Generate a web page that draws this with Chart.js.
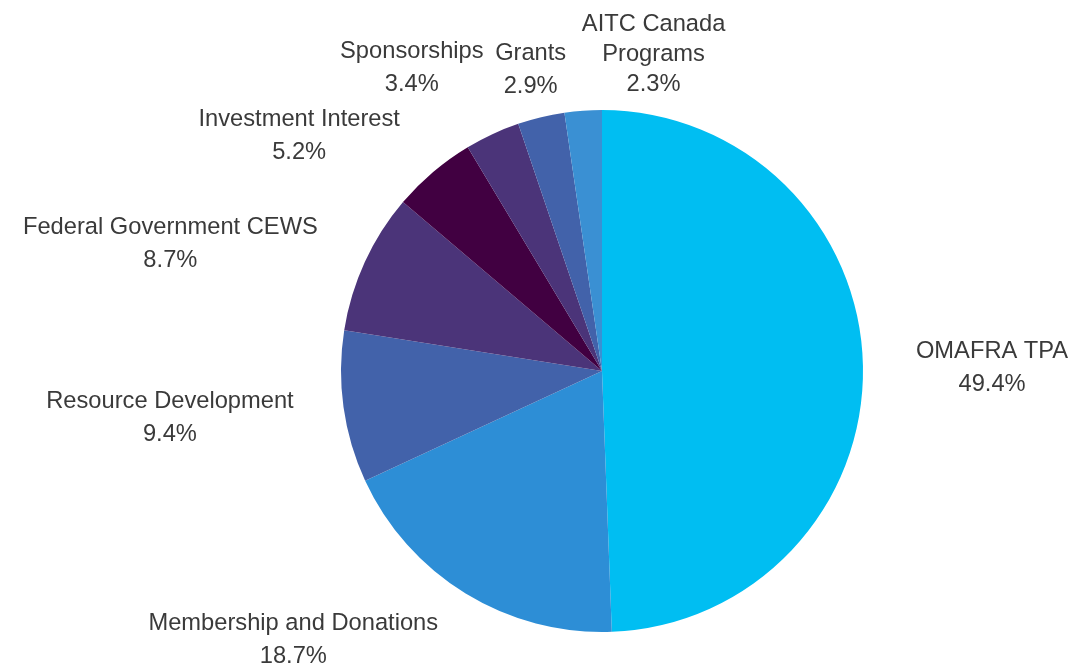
<!DOCTYPE html>
<html>
<head>
<meta charset="utf-8">
<script src="https://cdn.jsdelivr.net/npm/chart.js@4.4.0/dist/chart.umd.min.js"></script>
<style>
html,body{margin:0;padding:0;background:#fff;}
#wrap{position:relative;width:1073px;height:666px;}
</style>
</head>
<body>
<div id="wrap"><canvas id="c" width="1073" height="666"></canvas></div>
<script>
const categories = ["OMAFRA TPA", "Membership and Donations", "Resource Development", "Federal Government CEWS", "Investment Interest", "Sponsorships", "Grants", "AITC Canada Programs"];
const labelLines = [["OMAFRA TPA"], ["Membership and Donations"], ["Resource Development"], ["Federal Government CEWS"], ["Investment Interest"], ["Sponsorships"], ["Grants"], ["AITC Canada", "Programs"]];
const values = [49.4, 18.7, 9.4, 8.7, 5.2, 3.4, 2.9, 2.3];
const colors = ["#00BEF2", "#2D8ED6", "#4262AA", "#4B3479", "#410041", "#4B3479", "#4262AA", "#3A90D3"];

// small per-label adjustments of the outside labels (pixels)
const labelNudge = [[6,3],[9,-5],[-3,1],[-2,12],[6,14],[10,-13],[23,7],[86,15]];

const outsideLabels = {
  id: 'outsideLabels',
  afterDatasetsDraw(chart, args, opts) {
    const ctx = chart.ctx;
    const meta = chart.getDatasetMeta(0);
    const total = values.reduce((a, b) => a + b, 0);
    ctx.save();
    ctx.font = opts.font;
    ctx.fillStyle = opts.color;
    ctx.textAlign = 'center';
    ctx.textBaseline = 'middle';
    meta.data.forEach((arc, i) => {
      const p = arc.getProps(['x', 'y', 'startAngle', 'endAngle', 'outerRadius'], true);
      const mid = (p.startAngle + p.endAngle) / 2;
      const dx = Math.cos(mid), dy = Math.sin(mid);
      const R = p.outerRadius + opts.gap;
      const ax = p.x + dx * R, ay = p.y + dy * R;
      const lines = labelLines[i].concat([(values[i] / total * 100).toFixed(1) + '%']);
      const lh = lines.length > 2 ? opts.lineHeight3 : opts.lineHeight;
      let w = 0;
      lines.forEach(l => { w = Math.max(w, ctx.measureText(l).width); });
      const h = lines.length * opts.lineHeight;
      const clamp = v => Math.max(-1, Math.min(1, v));
      const cx = ax + (w / 2 + opts.padX) * clamp(2 * dx) + labelNudge[i][0];
      const cy = ay + (h / 2) * clamp(1.5 * dy) + labelNudge[i][1];
      lines.forEach((l, k) => {
        ctx.fillText(l, cx, cy + (k - (lines.length - 1) / 2) * lh);
      });
    });
    ctx.restore();
  }
};

new Chart(document.getElementById('c'), {
  type: 'pie',
  data: {
    labels: categories,
    datasets: [{
      data: values,
      backgroundColor: colors,
      borderWidth: 0
    }]
  },
  options: {
    responsive: false,
    animation: false,
    layout: { padding: { top: 110, bottom: 34, left: 341, right: 210 } },
    plugins: {
      legend: { display: false },
      tooltip: { enabled: false },
      outsideLabels: {
        font: '23.7px "Liberation Sans", Arial, sans-serif',
        color: '#3a3a3a',
        lineHeight: 33,
        lineHeight3: 30,
        gap: 22,
        padX: 25
      }
    }
  },
  plugins: [outsideLabels]
});
</script>
</body>
</html>
